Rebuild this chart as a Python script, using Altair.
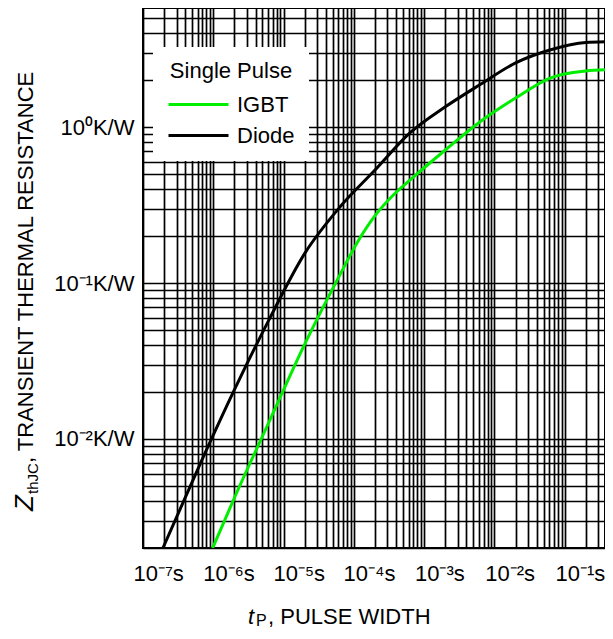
import altair as alt
import pandas as pd

# ---- data (pulse width in s, Zth in K/W) ----
diode_t = [9.6e-8, 3.162e-7, 1.0e-6, 3.162e-6, 1.0e-5, 3.162e-5, 1.0e-4,
           3.162e-4, 1.0e-3, 3.162e-3, 1.0e-2, 3.162e-2, 0.1, 0.216]
diode_z = [0.0020, 0.00673, 0.0207, 0.0591, 0.155, 0.307, 0.530,
           0.920, 1.348, 1.879, 2.579, 3.132, 3.483, 3.524]

igbt_t = [4.9e-7, 1.0e-6, 3.162e-6, 1.0e-5, 3.162e-5, 5.623e-5, 1.0e-4,
          1.778e-4, 3.162e-4, 1.0e-3, 3.162e-3, 1.0e-2, 3.162e-2, 0.1, 0.216]
igbt_z = [0.0020, 0.00420, 0.01309, 0.0406, 0.1128, 0.1828, 0.2704,
          0.3628, 0.4585, 0.7129, 1.086, 1.535, 2.069, 2.289, 2.334]

series_names = ["IGBT", "Diode"]
series_colors = ["#00ee00", "#000000"]

x_domain = [5e-8, 0.187]
y_domain = [0.002, 5.8]

x_major_exps = [-7, -6, -5, -4, -3, -2, -1]
x_major_labels = ["10⁻⁷s", "10⁻⁶s", "10⁻⁵s", "10⁻⁴s", "10⁻³s", "10⁻²s", "10⁻¹s"]
x_grid_mults = [1, 1.5, 2, 2.5, 3, 3.5, 4, 4.5, 5]
x_grid_exps = [-8, -7, -6, -5, -4, -3, -2, -1]

y_major_exps = [0, -1, -2]
y_major_labels = ["10⁰K/W", "10⁻¹K/W", "10⁻²K/W"]
y_grid_mults = [1, 2, 3, 4, 5, 6, 7, 8, 9]
y_grid_exps = [-3, -2, -1, 0]

FONT = "Liberation Sans"
FS = 22

# ---- build tables ----
rows = []
for t, z in zip(igbt_t, igbt_z):
    rows.append({"t": t, "z": z, "series": "IGBT", "o": len(rows)})
for t, z in zip(diode_t, diode_z):
    rows.append({"t": t, "z": z, "series": "Diode", "o": len(rows)})
df = pd.DataFrame(rows)

x_grid = [m * 10.0 ** e for e in x_grid_exps for m in x_grid_mults
          if x_domain[0] * 0.999 <= m * 10.0 ** e <= x_domain[1]]
y_grid = [m * 10.0 ** e for e in y_grid_exps for m in y_grid_mults
          if y_domain[0] * 0.999 <= m * 10.0 ** e <= y_domain[1]]


def label_expr(exps, labels):
    e = "''"
    for ex, lab in reversed(list(zip(exps, labels))):
        e = f"(round(log(datum.value)/LN10*1000)/1000 == {ex} ? '{lab}' : {e})"
    return e


legend = alt.Legend(
    title="Single Pulse", orient="none", legendX=10, legendY=39,
    fillColor="white", padding=14,
    titleFont=FONT, titleFontSize=FS, titleFontWeight="normal", titleColor="black",
    titleAnchor="middle", titlePadding=10,
    labelFont=FONT, labelFontSize=FS, labelColor="black", labelOffset=47,
    symbolType="M-1,0H5", symbolSize=400, symbolStrokeWidth=3, rowPadding=8,
)

lines = alt.Chart(df).mark_line(clip=True, strokeWidth=3, interpolate="monotone").encode(
    x=alt.X("t:Q", scale=alt.Scale(type="log", domain=x_domain, nice=False),
            axis=alt.Axis(values=x_grid, labelExpr=label_expr(x_major_exps, x_major_labels),
                          title=None, labelOverlap=False, labelFlush=False,
                          labelPadding=15, labelOffset=-6)),
    y=alt.Y("z:Q", scale=alt.Scale(type="log", domain=y_domain, nice=False),
            axis=alt.Axis(values=y_grid, labelExpr=label_expr(y_major_exps, y_major_labels),
                          title=None, labelOverlap=False, labelFlush=False,
                          labelPadding=9)),
    color=alt.Color("series:N", scale=alt.Scale(domain=series_names, range=series_colors),
                    sort=series_names, legend=legend),
    order="o:Q",
)


def txt(s, x, y, size, italic=False, angle=0):
    kw = dict(text=s, font=FONT, fontSize=size, color="black", align="left",
              baseline="alphabetic")
    if italic:
        kw["fontStyle"] = "italic"
    if angle:
        kw["angle"] = angle
    return alt.Chart(alt.Data(values=[{}])).mark_text(**kw).encode(
        x=alt.value(x), y=alt.value(y))


titles = [
    txt("Z", -110, 503, 26, italic=True, angle=270),
    txt("thJC", -105, 486, 15, angle=270),
    txt(", TRANSIENT THERMAL RESISTANCE", -110, 455, FS, angle=270),
    txt("t", 105, 616, FS, italic=True),
    txt("P", 113, 618, 16),
    txt(", PULSE WIDTH", 125, 616, FS),
]

chart = alt.layer(lines, *titles).properties(
    width=462, height=540,
    padding={"left": 135, "top": 0, "right": 0, "bottom": 81},
    autosize=alt.AutoSizeParams(type="none"),
).configure_view(
    stroke="black", strokeWidth=2
).configure_axis(
    grid=True, gridColor="black", gridWidth=1.7, gridOpacity=1,
    domain=False, ticks=False,
    labelFont=FONT, labelFontSize=FS, labelColor="black",
)

chart.save("out.html", embed_options={"renderer": "svg", "actions": False})
